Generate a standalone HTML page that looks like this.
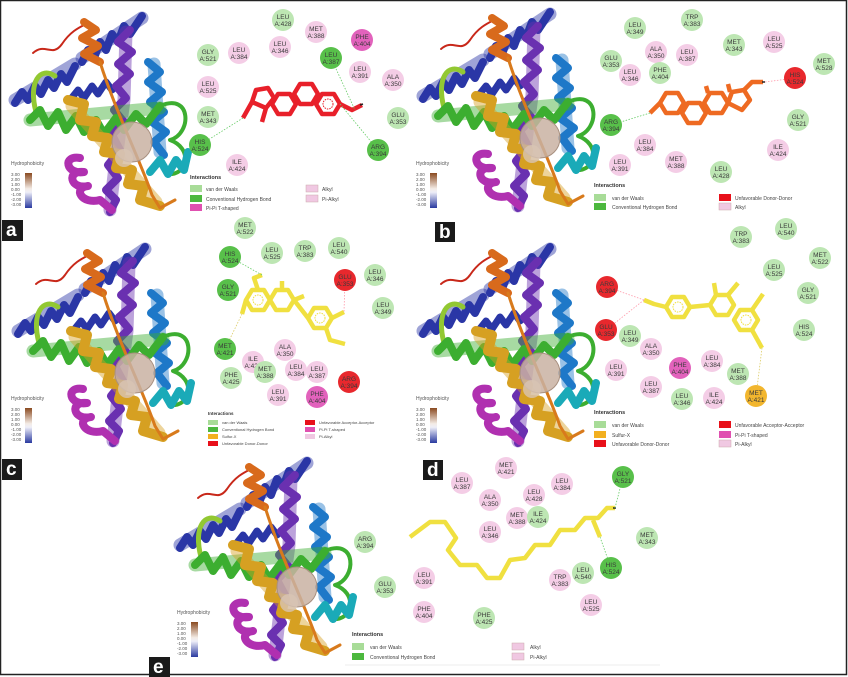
<!DOCTYPE html>
<html><head><meta charset="utf-8"><style>
html,body{margin:0;padding:0;background:#fff}
svg{display:block}
text{font-family:"Liberation Sans",sans-serif}
.r text{font-size:6.5px;fill:#3a3a3a;text-anchor:middle}
.v{fill:#bde6b3}.h{fill:#58c04a}.p{fill:#f4cde6}.m{fill:#e262bc}.x{fill:#e8282d}.o{fill:#f2b62e}
.lg{font-size:5px;fill:#444}
.lt{font-size:5.5px;font-weight:bold;fill:#333}
.hy{font-size:4.5px;fill:#555}
.lab{font-size:19px;fill:#fff;font-weight:bold}
.band{stroke-width:13;stroke-opacity:.45}
</style></head><body>
<svg width="848" height="677" viewBox="0 0 848 677" xmlns="http://www.w3.org/2000/svg">
<defs>
<linearGradient id="hg" x1="0" y1="0" x2="0" y2="1">
<stop offset="0" stop-color="#8a4a20"/><stop offset="0.45" stop-color="#f4ece6"/><stop offset="0.55" stop-color="#eeeef8"/><stop offset="1" stop-color="#2a3aa0"/></linearGradient>
<g id="prot" fill="none" stroke-linejoin="round" stroke-linecap="round">
<path d="M33,53 C45,42 52,58 62,44 C70,32 78,28 86,24" stroke="#c8281a" stroke-width="2"/>
<polyline class="band" points="15,100 75,64" stroke="#2a36a6"/>
<polyline points="15,103 22,92 28,100 35,86 41,94 48,80 54,88 61,74 67,82 75,66" stroke="#2a36a6" stroke-width="8"/>
<polyline class="band" points="82,58 142,18" stroke="#2a36a6"/>
<polyline points="82,62 88,50 94,58 100,42 106,50 112,34 118,42 124,26 130,34 142,16" stroke="#2a36a6" stroke-width="8"/>
<polyline points="70,100 78,90 84,98 92,86 98,94 106,82 112,90 122,80" stroke="#2a36a6" stroke-width="7"/>
<polyline class="band" points="126,32 124,100 114,175 110,210" stroke="#6a30b0"/>
<polyline points="130,30 118,42 132,52 118,64 130,74 116,86 126,98 114,110 124,122 112,135 120,150 108,165 118,178 106,190 116,200 110,212" stroke="#6a30b0" stroke-width="8"/>
<polyline class="band" points="154,64 160,152" stroke="#1e78c8"/>
<polyline points="148,62 160,72 148,82 162,92 150,102 164,112 152,122 166,132 154,142 164,155" stroke="#1e78c8" stroke-width="8"/>
<path d="M55,76 C40,66 28,82 36,112" stroke="#92c832" stroke-width="5"/>
<polyline class="band" points="30,120 160,108" stroke="#3cae30"/>
<polyline points="30,120 40,110 48,126 58,112 66,130 76,116 84,132 96,120 104,134 116,118 124,130 136,114 146,124 160,106" stroke="#3cae30" stroke-width="8"/>
<path d="M160,106 C192,92 192,134 170,140 C192,148 188,172 172,174" stroke="#3cae30" stroke-width="4"/>
<polyline points="150,172 160,160 168,174 176,160 184,170 188,152" stroke="#1aaab8" stroke-width="8"/>
<polyline class="band" points="72,106 156,202" stroke="#d6a022"/>
<polyline points="68,100 84,104 80,120 96,122 92,136 108,138 104,152 120,154 116,168 132,170 128,184 144,186 140,200 160,206" stroke="#d6a022" stroke-width="10"/>
<polyline points="84,22 96,30 82,38 98,46 84,54 100,62" stroke="#d86a1c" stroke-width="8"/>
<path d="M100,62 C115,110 140,160 152,195 L160,208 L175,200" stroke="#d87a1c" stroke-width="3"/>
<path d="M80,158 C62,155 66,175 84,172 C66,170 70,190 88,186 C72,188 82,205 100,200 L112,210" stroke="#b030b0" stroke-width="8"/>
<circle cx="132" cy="142" r="20" fill="#c9b2a2" fill-opacity="0.85" stroke="#a89080" stroke-width="1"/>
<circle cx="124" cy="158" r="9" fill="#d8c4b4" fill-opacity="0.8"/>
</g>
<g id="hyd">
<text class="hy" x="11" y="165" style="font-size:5px">Hydrophobicity</text>
<rect x="25" y="173" width="7" height="35" fill="url(#hg)"/>
<text class="hy" x="11" y="176">3.00</text><text class="hy" x="11" y="181">2.00</text><text class="hy" x="11" y="186">1.00</text><text class="hy" x="11" y="191">0.00</text><text class="hy" x="11" y="196">-1.00</text><text class="hy" x="11" y="201">-2.00</text><text class="hy" x="11" y="206">-3.00</text>
</g>
</defs>
<rect x="0.5" y="0.5" width="846" height="674" fill="#fff" stroke="#222" stroke-width="1.5"/>

<use href="#prot"/>
<use href="#prot" transform="translate(408,-4)"/>
<use href="#prot" transform="translate(3,231)"/>
<use href="#prot" transform="translate(408,231)"/>
<use href="#prot" transform="translate(165,445)"/>
<use href="#hyd"/>
<use href="#hyd" transform="translate(405,0)"/>
<use href="#hyd" transform="translate(0,235)"/>
<use href="#hyd" transform="translate(405,235)"/>
<use href="#hyd" transform="translate(166,449)"/>

<rect x="2" y="220" width="21" height="21" fill="#1a1a1a"/><text class="lab" x="6" y="236">a</text>
<rect x="435" y="222" width="20" height="20" fill="#1a1a1a"/><text class="lab" x="439" y="238">b</text>
<rect x="2" y="459" width="20" height="21" fill="#1a1a1a"/><text class="lab" x="6" y="475">c</text>
<rect x="423" y="460" width="20" height="20" fill="#1a1a1a"/><text class="lab" x="427" y="476">d</text>
<rect x="149" y="657" width="21" height="20" fill="#1a1a1a"/><text class="lab" x="153" y="673">e</text>

<g fill="none" stroke-width="4.5" stroke-linejoin="round">
<g stroke="#e8202a">
<polygon points="252,102 256,90 268,88 274,98 266,108"/>
<polygon points="272,104 278,94 290,94 296,104 290,114 278,114"/>
<polygon points="294,94 300,84 312,84 318,94 312,104 300,104"/>
<polygon points="316,104 322,94 334,94 340,104 334,114 322,114"/>
<polyline points="252,102 243,118"/><polyline points="266,108 262,122"/><polyline points="340,104 352,110 362,105"/>
<circle cx="328" cy="104" r="5" stroke-width="1" stroke-dasharray="1.5 1"/>
</g>
<g stroke="#ee6a22">
<polygon points="660,103 666,93 678,93 684,103 678,113 666,113"/>
<polygon points="682,113 688,103 700,103 706,113 700,123 688,123"/>
<polygon points="704,103 710,93 722,93 728,103 722,113 710,113"/>
<polygon points="728,103 732,92 744,90 750,100 742,110"/>
<polyline points="660,103 650,113"/><polyline points="744,90 752,82 763,82"/><polyline points="708,93 706,86"/><polyline points="730,92 728,84"/>
</g>
<g stroke="#f0e040">
<polygon points="246,300 252,290 264,290 270,300 264,310 252,310"/>
<polygon points="270,300 276,290 288,290 294,300 288,310 276,310"/>
<polygon points="308,318 314,308 326,308 332,318 326,328 314,328"/>
<polyline points="294,300 308,318"/><polyline points="246,300 242,314"/><polyline points="258,290 254,278 262,275"/><polyline points="282,290 282,281"/><polyline points="294,300 304,296"/><polyline points="332,318 344,312"/><polyline points="326,328 330,340 345,344"/>
<circle cx="258" cy="300" r="5" stroke-width="1" stroke-dasharray="1.5 1"/><circle cx="320" cy="318" r="5" stroke-width="1" stroke-dasharray="1.5 1"/>
</g>
<g stroke="#f0e040">
<polygon points="666,307 672,297 684,297 690,307 684,317 672,317"/>
<polygon points="710,305 716,295 728,295 734,305 728,315 716,315"/>
<polygon points="734,320 740,310 752,310 758,320 752,330 740,330"/>
<polyline points="690,307 710,305"/><polyline points="666,307 654,304 644,300"/><polyline points="716,295 714,283"/><polyline points="728,295 738,283"/><polyline points="752,310 763,294"/><polyline points="752,330 762,348"/>
<circle cx="678" cy="307" r="5" stroke-width="1" stroke-dasharray="1.5 1"/><circle cx="746" cy="320" r="5" stroke-width="1" stroke-dasharray="1.5 1"/>
</g>
<g stroke="#f0e040">
<polyline points="410,537 430,522 445,522 456,538 448,550 460,565 477,565 487,578 500,578 510,560 525,558 535,545 550,545 560,530 575,530 585,518 598,518 607,508 615,508"/>
<polyline points="593,520 600,537"/>
</g>
<g stroke-width="1.5" stroke="#222"><line x1="360" y1="105" x2="363" y2="104"/><line x1="762" y1="82" x2="765" y2="82"/><line x1="613" y1="508" x2="616" y2="508"/></g>
</g>
<g stroke-width="0.8" stroke-dasharray="1.5 1.5" fill="none">
<line x1="243" y1="118" x2="200" y2="145" stroke="#6c6"/><line x1="340" y1="104" x2="378" y2="150" stroke="#6c6"/><line x1="331" y1="58" x2="355" y2="110" stroke="#6c6"/>
<line x1="650" y1="113" x2="611" y2="125" stroke="#6c6"/><line x1="765" y1="82" x2="795" y2="78" stroke="#f9a"/>
<line x1="262" y1="275" x2="230" y2="257" stroke="#6c6"/><line x1="242" y1="314" x2="225" y2="349" stroke="#dc6"/><line x1="345" y1="280" x2="344" y2="312" stroke="#f9a"/>
<line x1="644" y1="300" x2="607" y2="287" stroke="#f9a"/><line x1="644" y1="300" x2="606" y2="330" stroke="#f9a"/><line x1="762" y1="348" x2="756" y2="396" stroke="#dc6"/>
<line x1="615" y1="508" x2="623" y2="477" stroke="#6c6"/><line x1="600" y1="537" x2="611" y2="568" stroke="#6c6"/>
</g>

<g class="r">
<circle class="v" cx="283" cy="20" r="11"/><text x="283" y="19">LEU</text><text x="283" y="26">A:428</text>
<circle class="p" cx="316" cy="32" r="11"/><text x="316" y="31">MET</text><text x="316" y="38">A:388</text>
<circle class="m" cx="362" cy="40" r="11"/><text x="362" y="39">PHE</text><text x="362" y="46">A:404</text>
<circle class="v" cx="208" cy="55" r="11"/><text x="208" y="54">GLY</text><text x="208" y="61">A:521</text>
<circle class="p" cx="239" cy="53" r="11"/><text x="239" y="52">LEU</text><text x="239" y="59">A:384</text>
<circle class="p" cx="280" cy="47" r="11"/><text x="280" y="46">LEU</text><text x="280" y="53">A:346</text>
<circle class="h" cx="331" cy="58" r="11"/><text x="331" y="57">LEU</text><text x="331" y="64">A:387</text>
<circle class="p" cx="360" cy="72" r="11"/><text x="360" y="71">LEU</text><text x="360" y="78">A:391</text>
<circle class="p" cx="393" cy="80" r="11"/><text x="393" y="79">ALA</text><text x="393" y="86">A:350</text>
<circle class="p" cx="208" cy="87" r="11"/><text x="208" y="86">LEU</text><text x="208" y="93">A:525</text>
<circle class="v" cx="208" cy="117" r="11"/><text x="208" y="116">MET</text><text x="208" y="123">A:343</text>
<circle class="v" cx="398" cy="118" r="11"/><text x="398" y="117">GLU</text><text x="398" y="124">A:353</text>
<circle class="h" cx="200" cy="145" r="11"/><text x="200" y="144">HIS</text><text x="200" y="151">A:524</text>
<circle class="h" cx="378" cy="150" r="11"/><text x="378" y="149">ARG</text><text x="378" y="156">A:394</text>
<circle class="p" cx="237" cy="165" r="11"/><text x="237" y="164">ILE</text><text x="237" y="171">A:424</text>
<circle class="v" cx="635" cy="28" r="11"/><text x="635" y="27">LEU</text><text x="635" y="34">A:349</text>
<circle class="v" cx="692" cy="20" r="11"/><text x="692" y="19">TRP</text><text x="692" y="26">A:383</text>
<circle class="p" cx="656" cy="52" r="11"/><text x="656" y="51">ALA</text><text x="656" y="58">A:350</text>
<circle class="p" cx="687" cy="55" r="11"/><text x="687" y="54">LEU</text><text x="687" y="61">A:387</text>
<circle class="v" cx="734" cy="45" r="11"/><text x="734" y="44">MET</text><text x="734" y="51">A:343</text>
<circle class="p" cx="774" cy="42" r="11"/><text x="774" y="41">LEU</text><text x="774" y="48">A:525</text>
<circle class="v" cx="611" cy="61" r="11"/><text x="611" y="60">GLU</text><text x="611" y="67">A:353</text>
<circle class="p" cx="630" cy="75" r="11"/><text x="630" y="74">LEU</text><text x="630" y="81">A:346</text>
<circle class="v" cx="660" cy="73" r="11"/><text x="660" y="72">PHE</text><text x="660" y="79">A:404</text>
<circle class="x" cx="795" cy="78" r="11"/><text x="795" y="77">HIS</text><text x="795" y="84">A:524</text>
<circle class="v" cx="824" cy="64" r="11"/><text x="824" y="63">MET</text><text x="824" y="70">A:528</text>
<circle class="h" cx="611" cy="125" r="11"/><text x="611" y="124">ARG</text><text x="611" y="131">A:394</text>
<circle class="v" cx="798" cy="120" r="11"/><text x="798" y="119">GLY</text><text x="798" y="126">A:521</text>
<circle class="p" cx="645" cy="145" r="11"/><text x="645" y="144">LEU</text><text x="645" y="151">A:384</text>
<circle class="p" cx="778" cy="150" r="11"/><text x="778" y="149">ILE</text><text x="778" y="156">A:424</text>
<circle class="p" cx="620" cy="165" r="11"/><text x="620" y="164">LEU</text><text x="620" y="171">A:391</text>
<circle class="p" cx="676" cy="162" r="11"/><text x="676" y="161">MET</text><text x="676" y="168">A:388</text>
<circle class="v" cx="721" cy="172" r="11"/><text x="721" y="171">LEU</text><text x="721" y="178">A:428</text>
<circle class="v" cx="245" cy="228" r="11"/><text x="245" y="227">MET</text><text x="245" y="234">A:522</text>
<circle class="h" cx="230" cy="257" r="11"/><text x="230" y="256">HIS</text><text x="230" y="263">A:524</text>
<circle class="v" cx="272" cy="253" r="11"/><text x="272" y="252">LEU</text><text x="272" y="259">A:525</text>
<circle class="v" cx="305" cy="251" r="11"/><text x="305" y="250">TRP</text><text x="305" y="257">A:383</text>
<circle class="v" cx="339" cy="248" r="11"/><text x="339" y="247">LEU</text><text x="339" y="254">A:540</text>
<circle class="x" cx="345" cy="280" r="11"/><text x="345" y="279">GLU</text><text x="345" y="286">A:353</text>
<circle class="v" cx="375" cy="275" r="11"/><text x="375" y="274">LEU</text><text x="375" y="281">A:346</text>
<circle class="h" cx="228" cy="290" r="11"/><text x="228" y="289">GLY</text><text x="228" y="296">A:521</text>
<circle class="v" cx="383" cy="308" r="11"/><text x="383" y="307">LEU</text><text x="383" y="314">A:349</text>
<circle class="h" cx="225" cy="349" r="11"/><text x="225" y="348">MET</text><text x="225" y="355">A:421</text>
<circle class="p" cx="285" cy="350" r="11"/><text x="285" y="349">ALA</text><text x="285" y="356">A:350</text>
<circle class="p" cx="253" cy="362" r="11"/><text x="253" y="361">ILE</text><text x="253" y="368">A:424</text>
<circle class="v" cx="265" cy="372" r="11"/><text x="265" y="371">MET</text><text x="265" y="378">A:388</text>
<circle class="p" cx="296" cy="370" r="11"/><text x="296" y="369">LEU</text><text x="296" y="376">A:384</text>
<circle class="p" cx="317" cy="372" r="11"/><text x="317" y="371">LEU</text><text x="317" y="378">A:387</text>
<circle class="x" cx="349" cy="382" r="11"/><text x="349" y="381">ARG</text><text x="349" y="388">A:394</text>
<circle class="v" cx="231" cy="378" r="11"/><text x="231" y="377">PHE</text><text x="231" y="384">A:425</text>
<circle class="p" cx="278" cy="395" r="11"/><text x="278" y="394">LEU</text><text x="278" y="401">A:391</text>
<circle class="m" cx="317" cy="397" r="11"/><text x="317" y="396">PHE</text><text x="317" y="403">A:404</text>
<circle class="v" cx="741" cy="237" r="11"/><text x="741" y="236">TRP</text><text x="741" y="243">A:383</text>
<circle class="v" cx="786" cy="229" r="11"/><text x="786" y="228">LEU</text><text x="786" y="235">A:540</text>
<circle class="v" cx="820" cy="258" r="11"/><text x="820" y="257">MET</text><text x="820" y="264">A:522</text>
<circle class="v" cx="774" cy="270" r="11"/><text x="774" y="269">LEU</text><text x="774" y="276">A:525</text>
<circle class="x" cx="607" cy="287" r="11"/><text x="607" y="286">ARG</text><text x="607" y="293">A:394</text>
<circle class="v" cx="808" cy="293" r="11"/><text x="808" y="292">GLY</text><text x="808" y="299">A:521</text>
<circle class="x" cx="606" cy="330" r="11"/><text x="606" y="329">GLU</text><text x="606" y="336">A:353</text>
<circle class="v" cx="630" cy="336" r="11"/><text x="630" y="335">LEU</text><text x="630" y="342">A:349</text>
<circle class="v" cx="804" cy="330" r="11"/><text x="804" y="329">HIS</text><text x="804" y="336">A:524</text>
<circle class="p" cx="651" cy="349" r="11"/><text x="651" y="348">ALA</text><text x="651" y="355">A:350</text>
<circle class="p" cx="616" cy="370" r="11"/><text x="616" y="369">LEU</text><text x="616" y="376">A:391</text>
<circle class="m" cx="680" cy="368" r="11"/><text x="680" y="367">PHE</text><text x="680" y="374">A:404</text>
<circle class="p" cx="712" cy="361" r="11"/><text x="712" y="360">LEU</text><text x="712" y="367">A:384</text>
<circle class="v" cx="738" cy="374" r="11"/><text x="738" y="373">MET</text><text x="738" y="380">A:388</text>
<circle class="p" cx="651" cy="387" r="11"/><text x="651" y="386">LEU</text><text x="651" y="393">A:387</text>
<circle class="v" cx="682" cy="399" r="11"/><text x="682" y="398">LEU</text><text x="682" y="405">A:346</text>
<circle class="p" cx="714" cy="398" r="11"/><text x="714" y="397">ILE</text><text x="714" y="404">A:424</text>
<circle class="o" cx="756" cy="396" r="11"/><text x="756" y="395">MET</text><text x="756" y="402">A:421</text>
<circle class="p" cx="506" cy="468" r="11"/><text x="506" y="467">MET</text><text x="506" y="474">A:421</text>
<circle class="p" cx="462" cy="483" r="11"/><text x="462" y="482">LEU</text><text x="462" y="489">A:387</text>
<circle class="p" cx="562" cy="484" r="11"/><text x="562" y="483">LEU</text><text x="562" y="490">A:384</text>
<circle class="h" cx="623" cy="477" r="11"/><text x="623" y="476">GLY</text><text x="623" y="483">A:521</text>
<circle class="p" cx="490" cy="500" r="11"/><text x="490" y="499">ALA</text><text x="490" y="506">A:350</text>
<circle class="p" cx="534" cy="495" r="11"/><text x="534" y="494">LEU</text><text x="534" y="501">A:428</text>
<circle class="p" cx="517" cy="518" r="11"/><text x="517" y="517">MET</text><text x="517" y="524">A:388</text>
<circle class="v" cx="538" cy="517" r="11"/><text x="538" y="516">ILE</text><text x="538" y="523">A:424</text>
<circle class="p" cx="490" cy="532" r="11"/><text x="490" y="531">LEU</text><text x="490" y="538">A:346</text>
<circle class="v" cx="647" cy="538" r="11"/><text x="647" y="537">MET</text><text x="647" y="544">A:343</text>
<circle class="v" cx="365" cy="542" r="11"/><text x="365" y="541">ARG</text><text x="365" y="548">A:394</text>
<circle class="h" cx="611" cy="568" r="11"/><text x="611" y="567">HIS</text><text x="611" y="574">A:524</text>
<circle class="v" cx="583" cy="573" r="11"/><text x="583" y="572">LEU</text><text x="583" y="579">A:540</text>
<circle class="p" cx="560" cy="580" r="11"/><text x="560" y="579">TRP</text><text x="560" y="586">A:383</text>
<circle class="p" cx="424" cy="578" r="11"/><text x="424" y="577">LEU</text><text x="424" y="584">A:391</text>
<circle class="v" cx="385" cy="587" r="11"/><text x="385" y="586">GLU</text><text x="385" y="593">A:353</text>
<circle class="p" cx="591" cy="605" r="11"/><text x="591" y="604">LEU</text><text x="591" y="611">A:525</text>
<circle class="p" cx="424" cy="612" r="11"/><text x="424" y="611">PHE</text><text x="424" y="618">A:404</text>
<circle class="v" cx="484" cy="618" r="11"/><text x="484" y="617">PHE</text><text x="484" y="624">A:425</text>
</g>

<g>
<text class="lt" x="190" y="179">Interactions</text>
<rect x="190" y="185" width="12" height="7" fill="#a8dc98"/><text class="lg" x="206" y="191">van der Waals</text>
<rect x="190" y="195" width="12" height="7" fill="#4cb83e"/><text class="lg" x="206" y="201">Conventional Hydrogen Bond</text>
<rect x="190" y="204" width="12" height="7" fill="#e050b0"/><text class="lg" x="206" y="210">Pi-Pi T-shaped</text>
<rect x="306" y="185" width="12" height="7" fill="#f0c8e2" stroke="#caa" stroke-width=".5"/><text class="lg" x="322" y="191">Alkyl</text>
<rect x="306" y="195" width="12" height="7" fill="#f0c8e2" stroke="#caa" stroke-width=".5"/><text class="lg" x="322" y="201">Pi-Alkyl</text>

<text class="lt" x="594" y="187">Interactions</text>
<rect x="594" y="194" width="12" height="7" fill="#a8dc98"/><text class="lg" x="612" y="200">van der Waals</text>
<rect x="594" y="203" width="12" height="7" fill="#4cb83e"/><text class="lg" x="612" y="209">Conventional Hydrogen Bond</text>
<rect x="719" y="194" width="12" height="7" fill="#e8101a"/><text class="lg" x="735" y="200">Unfavorable Donor-Donor</text>
<rect x="719" y="203" width="12" height="7" fill="#f0c8e2" stroke="#caa" stroke-width=".5"/><text class="lg" x="735" y="209">Alkyl</text>

<text class="lt" x="208" y="415" style="font-size:4.5px">Interactions</text>
<rect x="208" y="420" width="10" height="5" fill="#a8dc98"/><text class="lg" x="222" y="424" style="font-size:4px">van der Waals</text>
<rect x="208" y="427" width="10" height="5" fill="#4cb83e"/><text class="lg" x="222" y="431" style="font-size:4px">Conventional Hydrogen Bond</text>
<rect x="208" y="434" width="10" height="5" fill="#f2b020"/><text class="lg" x="222" y="438" style="font-size:4px">Sulfur-X</text>
<rect x="208" y="441" width="10" height="5" fill="#e8101a"/><text class="lg" x="222" y="445" style="font-size:4px">Unfavorable Donor-Donor</text>
<rect x="305" y="420" width="10" height="5" fill="#e8101a"/><text class="lg" x="319" y="424" style="font-size:4px">Unfavorable Acceptor-Acceptor</text>
<rect x="305" y="427" width="10" height="5" fill="#e050b0"/><text class="lg" x="319" y="431" style="font-size:4px">Pi-Pi T-shaped</text>
<rect x="305" y="434" width="10" height="5" fill="#f0c8e2"/><text class="lg" x="319" y="438" style="font-size:4px">Pi-Alkyl</text>

<text class="lt" x="594" y="414">Interactions</text>
<rect x="594" y="421" width="12" height="7" fill="#a8dc98"/><text class="lg" x="612" y="427">van der Waals</text>
<rect x="594" y="431" width="12" height="7" fill="#f2b020"/><text class="lg" x="612" y="437">Sulfur-X</text>
<rect x="594" y="440" width="12" height="7" fill="#e8101a"/><text class="lg" x="612" y="446">Unfavorable Donor-Donor</text>
<rect x="719" y="421" width="12" height="7" fill="#e8101a"/><text class="lg" x="735" y="427">Unfavorable Acceptor-Acceptor</text>
<rect x="719" y="431" width="12" height="7" fill="#e050b0"/><text class="lg" x="735" y="437">Pi-Pi T-shaped</text>
<rect x="719" y="440" width="12" height="7" fill="#f0c8e2" stroke="#caa" stroke-width=".5"/><text class="lg" x="735" y="446">Pi-Alkyl</text>

<text class="lt" x="352" y="636">Interactions</text>
<rect x="352" y="643" width="12" height="7" fill="#a8dc98"/><text class="lg" x="370" y="649">van der Waals</text>
<rect x="352" y="653" width="12" height="7" fill="#4cb83e"/><text class="lg" x="370" y="659">Conventional Hydrogen Bond</text>
<rect x="512" y="643" width="12" height="7" fill="#f0c8e2" stroke="#caa" stroke-width=".5"/><text class="lg" x="530" y="649">Alkyl</text>
<rect x="512" y="653" width="12" height="7" fill="#f0c8e2" stroke="#caa" stroke-width=".5"/><text class="lg" x="530" y="659">Pi-Alkyl</text>
<line x1="345" y1="665" x2="660" y2="665" stroke="#ddd" stroke-width="0.6"/>
</g>
</svg>
</body></html>
